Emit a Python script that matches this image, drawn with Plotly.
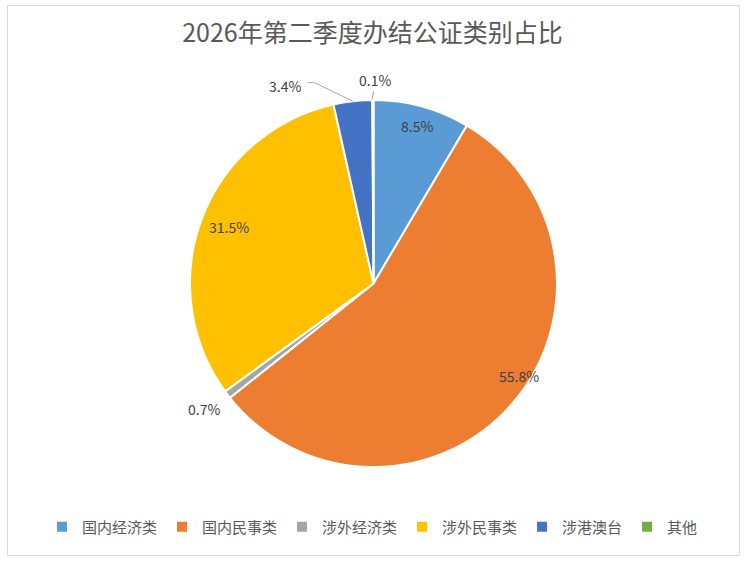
import math
import plotly.graph_objects as go

categories = ["国内经济类", "国内民事类", "涉外经济类", "涉外民事类", "涉港澳台", "其他"]
values = [8.5, 55.8, 0.7, 31.5, 3.4, 0.1]
colors = ["#5B9BD5", "#ED7D31", "#A5A5A5", "#FFC000", "#4472C4", "#70AD47"]

# label placement (style): radius factor and angular shift (deg) from slice mid-angle
label_radius = [0.89, 0.94, 1.15, 0.845, 1.18, 1.11]
label_shift = [0, -8.8, 0.7, 0.7, -17.5, 0.5]

W, H = 745, 561
font = "Noto Sans CJK SC, Microsoft YaHei, sans-serif"

dom_x = [190 / W, 557 / W]
dom_y = [1 - 467 / H, 1 - 100 / H]
cx = (dom_x[0] + dom_x[1]) / 2 * W
cy = (1 - (dom_y[0] + dom_y[1]) / 2) * H
R = min((dom_x[1] - dom_x[0]) * W, (dom_y[1] - dom_y[0]) * H) / 2

fig = go.Figure(go.Pie(
    labels=categories,
    values=values,
    sort=False,
    direction="clockwise",
    rotation=0,
    marker=dict(colors=colors, line=dict(color="white", width=2)),
    textinfo="none",
    domain=dict(x=dom_x, y=dom_y),
    hoverinfo="label+percent",
))

total = sum(values)
cum = 0.0
annotations = []
mids = []
label_pts = []
for v, k, s in zip(values, label_radius, label_shift):
    mid = (cum + v / 2) / total * 360
    mids.append(mid)
    cum += v
    th = math.radians(mid + s)
    px = cx + R * k * math.sin(th)
    py = cy - R * k * math.cos(th)
    label_pts.append((px, py))
    annotations.append(dict(
        x=px / W, y=1 - py / H, xref="paper", yref="paper",
        text=f"{v:.1f}%", showarrow=False, xanchor="center", yanchor="middle",
        font=dict(size=14, color="#404040", family=font),
    ))

def edge(angle_deg, k=1.0):
    t = math.radians(angle_deg)
    return cx + R * k * math.sin(t), cy - R * k * math.cos(t)

shapes = [dict(type="rect", xref="paper", yref="paper",
               x0=7.5 / W, x1=739.5 / W, y0=1 - 555.5 / H, y1=1 - 5.5 / H,
               line=dict(color="#D9D9D9", width=1), layer="below")]

# leader line for 涉港澳台 (elbow)
lx, ly = label_pts[4]
ex, ey = edge(mids[4])
sx, sy = lx + 22, ly - 3
shapes.append(dict(type="path", xref="paper", yref="paper",
                   path=f"M {sx / W} {1 - sy / H} L {(sx + 7) / W} {1 - sy / H} L {ex / W} {1 - ey / H}",
                   line=dict(color="#A6A6A6", width=1)))
# leader line for 其他
lx, ly = label_pts[5]
ex, ey = edge(mids[5] - 0.3)
shapes.append(dict(type="line", xref="paper", yref="paper",
                   x0=(lx - 1) / W, y0=1 - (ly + 11.5) / H, x1=ex / W, y1=1 - (ey - 0.5) / H,
                   line=dict(color="#A6A6A6", width=1)))

fig.update_layout(
    width=W, height=H,
    margin=dict(l=0, r=0, t=0, b=0),
    paper_bgcolor="white",
    font=dict(family=font, color="#595959"),
    title=dict(text="2026年第二季度办结公证类别占比", x=0.5, xanchor="center",
               y=1 - 33 / H, yanchor="middle",
               font=dict(size=25, color="#595959", family=font)),
    legend=dict(orientation="h", x=0.5, xanchor="center", y=1 - 527 / H, yanchor="middle",
                font=dict(size=15, color="#595959", family=font), traceorder="normal",
                itemwidth=30),
    annotations=annotations,
    shapes=shapes,
)

fig.write_html("out.html")
